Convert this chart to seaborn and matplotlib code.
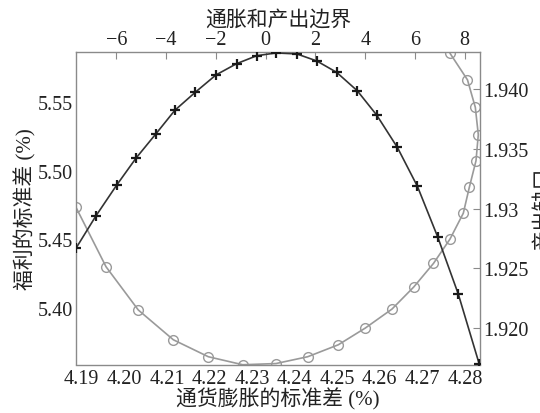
import matplotlib
matplotlib.use("Agg")
import matplotlib.pyplot as plt
import seaborn as sns

# Frontier: inflation std (bottom axis) vs output-gap std (right axis)
infl_std = [4.18866, 4.19571, 4.20329, 4.21151, 4.21973, 4.22780, 4.23562,
            4.24306, 4.25025, 4.25659, 4.26286, 4.26795, 4.27260, 4.27648,
            4.27960, 4.28101, 4.28258, 4.28312, 4.28242, 4.28058, 4.27648]
gap_std = [1.93010, 1.92513, 1.92151, 1.91902, 1.91760, 1.91693, 1.91703,
           1.91760, 1.91860, 1.92000, 1.92159, 1.92343, 1.92541, 1.92745,
           1.92961, 1.93177, 1.93400, 1.93618, 1.93847, 1.94077, 1.94299]

# Welfare std (left axis) along the frontier parameter (top axis)
frontier = [-7.62, -6.82, -5.99, -5.21, -4.41, -3.65, -2.83, -2.00, -1.17,
            -0.36, 0.41, 1.25, 2.05, 2.85, 3.68, 4.46, 5.29, 6.10, 6.91,
            7.74, 8.58]
welfare_std = [5.4437, 5.4672, 5.4895, 5.5092, 5.5269, 5.5440, 5.5571,
               5.5697, 5.5779, 5.5837, 5.5857, 5.5850, 5.5799, 5.5716,
               5.5582, 5.5405, 5.5170, 5.4885, 5.4519, 5.4102, 5.3594]

bottom_ticks = [4.19, 4.20, 4.21, 4.22, 4.23, 4.24, 4.25, 4.26, 4.27, 4.28]
bottom_labels = ["4.19", "4.20", "4.21", "4.22", "4.23", "4.24", "4.25",
                 "4.26", "4.27", "4.28"]
left_ticks = [5.40, 5.45, 5.50, 5.55]
left_labels = ["5.40", "5.45", "5.50", "5.55"]
right_ticks = [1.920, 1.925, 1.930, 1.935, 1.940]
right_labels = ["1.920", "1.925", "1.93", "1.935", "1.940"]
top_ticks = [-6, -4, -2, 0, 2, 4, 6, 8]
top_labels = ["\u22126", "\u22124", "\u22122", "0", "2", "4", "6", "8"]

sns.set_theme(style="white")
plt.rcParams["font.family"] = ["Liberation Serif", "Noto Sans CJK SC"]
plt.rcParams["axes.unicode_minus"] = True

fig = plt.figure(figsize=(5.4, 4.14), dpi=100)
rect = [76 / 540, 1 - 365.5 / 414, 404 / 540, 312.5 / 414]

spine_col = "#8a8a8a"
txt_col = "#222222"
tick_fs = 14.5
lab_fs = 15

# Axes 1: bottom x / right y, grey circles
ax1 = fig.add_axes(rect)
sns.lineplot(x=infl_std, y=gap_std, sort=False, estimator=None, ax=ax1,
             color="#9a9a9a", linewidth=1.2, marker="o", markersize=7,
             markerfacecolor="none", markeredgecolor="#9a9a9a",
             markeredgewidth=1.0)
ax1.set_xlim(4.18866, 4.28352)
ax1.set_ylim(1.91695, 1.94310)
ax1.yaxis.tick_right()
ax1.yaxis.set_label_position("right")
ax1.set_xticks(bottom_ticks)
ax1.set_xticklabels(bottom_labels)
ax1.set_yticks(right_ticks)
ax1.set_yticklabels(right_labels)
ax1.set_xlabel("通货膨胀的标准差 (%)", fontsize=lab_fs, color=txt_col, labelpad=0)
ax1.set_ylabel("产出缺口", fontsize=lab_fs, color=txt_col, rotation=90)
ax1.yaxis.set_label_coords(1.135, 0.5)
ax1.tick_params(axis="both", direction="in", length=5, width=0.8,
                color=spine_col, labelsize=tick_fs, labelcolor=txt_col, pad=2)
ax1.tick_params(axis="x", pad=3)
for s in ax1.spines.values():
    s.set_color(spine_col)
    s.set_linewidth(1.0)

# Axes 2: top x / left y, dark plus markers
ax2 = fig.add_axes(rect, frameon=False)
sns.lineplot(x=frontier, y=welfare_std, sort=False, estimator=None, ax=ax2,
             color="#333333", linewidth=1.2, marker="+", markersize=6.5,
             markeredgecolor="#1a1a1a", markeredgewidth=1.6)
ax2.set_xlim(-7.625, 8.613)
ax2.set_ylim(5.3589, 5.5864)
ax2.xaxis.tick_top()
ax2.xaxis.set_label_position("top")
ax2.set_xticks(top_ticks)
ax2.set_xticklabels(top_labels)
ax2.set_yticks(left_ticks)
ax2.set_yticklabels(left_labels)
ax2.set_xlabel("通胀和产出边界", fontsize=lab_fs, color=txt_col, labelpad=4)
ax2.set_ylabel("福利的标准差 (%)", fontsize=lab_fs, color=txt_col, labelpad=1)
ax2.tick_params(axis="both", direction="in", length=5, width=0.8,
                color=spine_col, labelsize=tick_fs, labelcolor=txt_col, pad=2)
ax2.patch.set_visible(False)

fig.savefig("out.png", dpi=100)
